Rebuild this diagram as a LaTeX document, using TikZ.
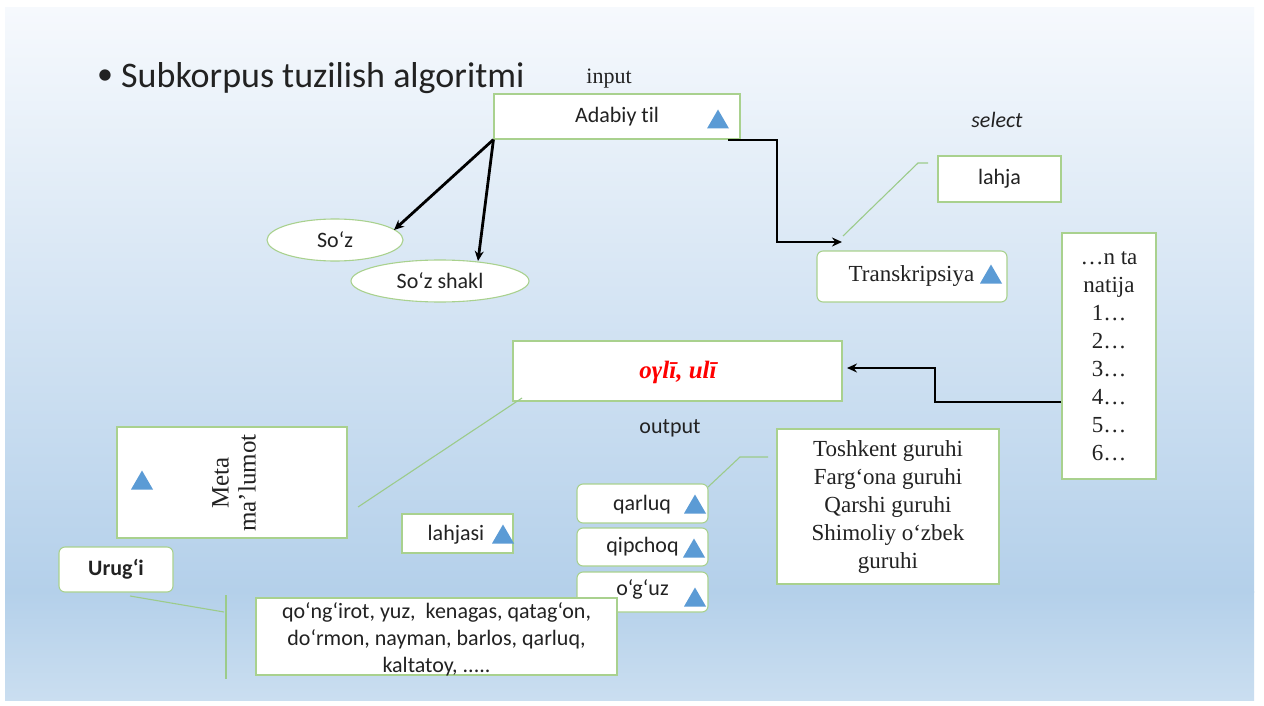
\documentclass[tikz,border=0pt]{standalone}
\usepackage{fontspec}
\setmainfont{Liberation Serif}
\newfontfamily\calfont[Ligatures=NoCommon]{Carlito}
\usetikzlibrary{arrows.meta,shapes.geometric}
\definecolor{boxgreen}{HTML}{A9D18E}
\definecolor{linegreen}{HTML}{9CCB8A}
\definecolor{triblue}{HTML}{5B9BD5}
\definecolor{txt}{HTML}{222222}
\definecolor{bgtop}{HTML}{F6F9FD}
\definecolor{bgmid}{HTML}{B4D0EA}
\definecolor{bgbot}{HTML}{CADEF0}
\newcommand\fsz[2]{\fontsize{#1}{#2}\selectfont}
\newcommand\bluetri[2]{\fill[triblue] (#1-11,#2+9.5) -- (#1+11,#2+9.5) -- (#1,#2-9.5) -- cycle;}
\begin{document}
\begin{tikzpicture}[x=1pt,y=-1pt,
  box/.style={draw=boxgreen,line width=1.1pt,fill=white,inner sep=0pt},
  rbox/.style={box,rounded corners=6pt},
  oval/.style={ellipse,draw=boxgreen,line width=1.1pt,fill=white,inner sep=0pt},
  sanslbl/.style={font=\calfont\fsz{22}{26},text=txt,inner sep=0pt},
  seriflbl/.style={font=\fsz{23}{28},text=txt,inner sep=0pt},
  conn/.style={line width=2.8pt,black,-{Stealth[length=10pt,width=9pt]}},
  gline/.style={draw=linegreen,line width=1.1pt}
]
\useasboundingbox (0,0) rectangle (1264,706);
\fill[white] (0,0) rectangle (1264,706);
\shade[top color=bgtop,bottom color=bgmid] (5,8) rectangle (1254,592);
\shade[top color=bgmid,bottom color=bgbot] (5,591) rectangle (1254,700);

% title
\node[font=\calfont\fsz{32}{40},text=txt,inner sep=0pt] (bullet) at (105,77) {•};
\node[font=\calfont\fsz{36}{40},text=txt,inner sep=0pt,anchor=base west] (title) at (121,88) {Subkorpus tuzilish algoritmi};

% input
\node[seriflbl,font=\fsz{22}{26},anchor=base] (inputlbl) at (609,84) {input};
\node[box,minimum width=246pt,minimum height=45pt,sanslbl] (adabiy) at (617,116.5) {Adabiy til};
\bluetri{718}{119}

% ellipses
\node[oval,minimum width=136pt,minimum height=42pt,sanslbl,draw=boxgreen,fill=white] (soz) at (335,240) {So‘z};
\node[oval,minimum width=178pt,minimum height=42pt,sanslbl,draw=boxgreen,fill=white] (sozshakl) at (440,281) {So‘z shakl};
\draw[conn] (adabiy.south west) -- (394,230);
\draw[conn] (adabiy.south west) -- (478,261);

% select / lahja / transkripsiya
\node[sanslbl,font=\calfont\itshape\fsz{22}{26}] (select) at (997,120) {select};
\node[box,minimum width=123pt,minimum height=46pt,sanslbl] (lahja) at (999.5,179) {lahja};
\node[rbox,minimum width=190pt,minimum height=51pt] (trans) at (912,276.5) {};
\node[seriflbl] (translbl) at (911.5,276) {Transkripsiya};
\bluetri{991}{274}
\coordinate (adr) at (728,140);
\draw[conn] (adr) -- (777,140) -- (777,242) -- (842,242);
\coordinate (tc1) at (843,236);
\coordinate (tc2) at (918,163);
\coordinate (tc3) at (928,163);
\draw[gline] (tc1) -- (tc2) -- (tc3);

% natija
\node[box,minimum width=94pt,minimum height=246pt,seriflbl,align=center] (natija) at (1109,356)
  {…n ta\\natija\\1…\\2…\\3…\\4…\\5…\\6…};

% output box
\node[box,minimum width=329pt,minimum height=60pt] (ogli) at (677.5,371) {};
\node[font=\bfseries\itshape\fsz{25}{28},text=red,inner sep=0pt] (oglilbl) at (678,372) {oγlī, ulī};
\draw[conn] (natija.west |- 0,402) -- (935,402) -- (935,368) -- (847,368);
\node[sanslbl] (output) at (670,428) {output};

% meta
\node[box,minimum width=230pt,minimum height=111pt] (meta) at (232,482.5) {};
\node[font=\fsz{25}{27},text=txt,inner sep=0pt,rotate=90,align=center] (metalbl) at (234,483) {Meta\\ma’lumot};
\bluetri{142}{480}
\coordinate (mc1) at (358,507);
\coordinate (mc2) at (522,398);
\draw[gline] (mc1) -- (mc2);

% lahjasi
\node[box,minimum width=111pt,minimum height=39pt] (lahjasi) at (457.5,533.5) {};
\node[sanslbl] (lahjasilbl) at (456,535) {lahjasi};
\bluetri{503}{534}

% groups
\node[rbox,minimum width=131pt,minimum height=39pt] (qarluq) at (642.5,503.5) {};
\node[sanslbl] (qarluqlbl) at (642,505) {qarluq};
\bluetri{695}{504}
\node[rbox,minimum width=131pt,minimum height=38pt] (qipchoq) at (642.5,547) {};
\node[sanslbl] (qipchoqlbl) at (642.5,547) {qipchoq};
\bluetri{694}{548}
\node[rbox,minimum width=131pt,minimum height=40pt] (oguz) at (642.5,592) {};
\node[sanslbl] (oguzlbl) at (642.5,589) {o‘g‘uz};
\bluetri{695}{597}

\node[box,minimum width=222pt,minimum height=155pt,seriflbl,align=center] (toshkent) at (888,506.5)
  {Toshkent guruhi\\Farg‘ona guruhi\\Qarshi guruhi\\Shimoliy o‘zbek\\guruhi};
\coordinate (qc1) at (708,487);
\coordinate (qc2) at (740,457);
\coordinate (qc3) at (768,457);
\draw[gline] (qc1) -- (qc2) -- (qc3);

% urug'i
\node[rbox,minimum width=114pt,minimum height=45pt,sanslbl,font=\calfont\bfseries\fsz{22}{26}] (urugi) at (116,569.5) {Urug‘i};
\node[box,minimum width=361pt,minimum height=77pt] (qongirot) at (436.5,636.5) {};
\node[sanslbl,align=center,font=\calfont\fsz{22}{27}] (qongirotlbl) at (436.5,639)
  {qo‘ng‘irot, yuz,\ \ kenagas, qatag‘on,\\do‘rmon, nayman, barlos, qarluq,\\kaltatoy, .....};
\coordinate (uc1) at (130,596);
\coordinate (uc2) at (224,612);
\coordinate (uc3) at (226,595);
\coordinate (uc4) at (226,679);
\draw[gline] (uc1) -- (uc2);
\draw[gline] (uc3) -- (uc4);
\end{tikzpicture}
\end{document}
